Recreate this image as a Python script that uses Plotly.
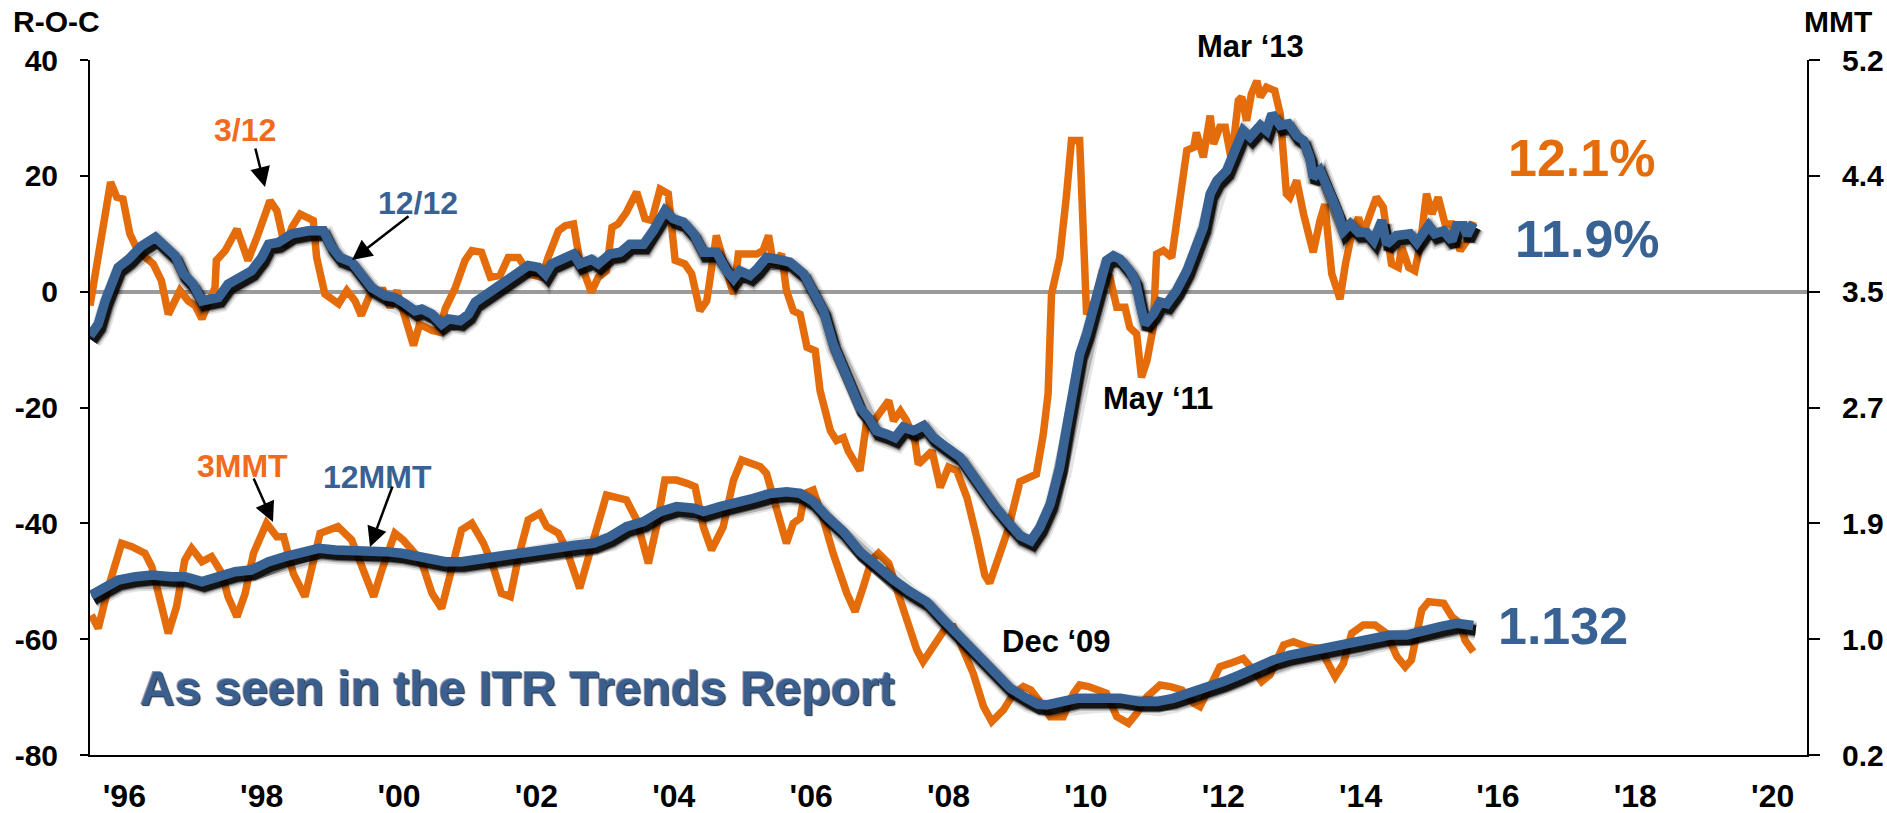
import plotly.graph_objects as go

# ---------------- data (decimal years) ----------------
# Rate-of-change 3/12 (orange, left axis)
roc312_x = [1996.0, 1996.3, 1996.39, 1996.48, 1996.58, 1996.7, 1996.92, 1997.04, 1997.14, 1997.31,
            1997.43, 1997.53, 1997.63, 1997.72, 1997.82, 1997.84, 1997.97, 1998.14, 1998.3, 1998.45,
            1998.62, 1998.72, 1998.84, 1998.94, 1999.06, 1999.25, 1999.3, 1999.42, 1999.62, 1999.74,
            1999.86, 1999.95, 2000.1, 2000.27, 2000.37, 2000.47, 2000.59, 2000.71, 2000.8, 2000.98,
            2001.1, 2001.17, 2001.32, 2001.46, 2001.56, 2001.7, 2001.83, 2001.97, 2002.09, 2002.24,
            2002.4, 2002.58, 2002.67, 2002.82, 2002.92, 2003.04, 2003.13, 2003.3, 2003.4, 2003.52,
            2003.6, 2003.69, 2003.81, 2003.96, 2004.08, 2004.18, 2004.3, 2004.42, 2004.52, 2004.66,
            2004.76, 2004.88, 2004.98, 2005.12, 2005.22, 2005.37, 2005.44, 2005.59, 2005.71, 2005.8,
            2005.88, 2005.95, 2006.07, 2006.14, 2006.24, 2006.34, 2006.44, 2006.56, 2006.63, 2006.78,
            2006.87, 2006.97, 2007.04, 2007.21, 2007.31, 2007.38, 2007.48, 2007.63, 2007.7, 2007.8,
            2007.89, 2008.01, 2008.06, 2008.21, 2008.26, 2008.38, 2008.5, 2008.62, 2008.77, 2008.91,
            2009.03, 2009.1, 2009.25, 2009.37, 2009.54, 2009.69, 2009.78, 2009.88, 2009.95, 2010.0,
            2010.12, 2010.22, 2010.29, 2010.41, 2010.51, 2010.63, 2010.73, 2010.85, 2010.95, 2011.07,
            2011.14, 2011.24, 2011.31, 2011.39, 2011.48, 2011.53, 2011.63, 2011.75, 2011.85, 2011.92,
            2011.97, 2012.07, 2012.11, 2012.21, 2012.31, 2012.36, 2012.45, 2012.53, 2012.62, 2012.72,
            2012.77, 2012.84, 2012.91, 2012.99, 2013.04, 2013.13, 2013.25, 2013.33, 2013.42, 2013.47,
            2013.57, 2013.67, 2013.81, 2013.91, 2013.98, 2014.08, 2014.2, 2014.28, 2014.37, 2014.47,
            2014.54, 2014.64, 2014.73, 2014.83, 2014.9, 2014.95, 2015.05, 2015.1, 2015.2, 2015.29,
            2015.37, 2015.46, 2015.54, 2015.63, 2015.73, 2015.83, 2015.95, 2016.05, 2016.14]
roc312_y = [-2.4, 18.9, 16.3, 16.0, 10.0, 7.0, 4.8, 1.9, -3.9, 0.2,
            -1.6, -2.4, -4.7, -2.1, 0.7, 5.4, 7.1, 10.8, 5.4, 10.0,
            15.7, 14.0, 7.7, 11.1, 13.4, 12.3, 5.9, -0.4, -2.1, 0.2,
            -1.6, -4.1, 0.2, 0.2, -2.7, 0.2, -5.0, -9.3, -5.6, -6.7,
            -7.0, -3.0, 0.7, 5.4, 7.1, 6.8, 2.5, 2.8, 5.9, 5.9,
            3.0, 2.5, 5.9, 10.5, 11.4, 11.7, 5.4, -0.1, 2.5, 3.6,
            11.1, 11.7, 13.7, 17.2, 12.6, 12.3, 17.7, 16.9, 5.4, 4.8,
            3.1, -3.3, -1.6, 9.7, 5.4, -0.4, 6.5, 6.5, 6.5, 7.1,
            9.7, 4.8, 6.5, 0.2, -3.3, -3.9, -9.6, -10.2, -17.1, -24.0,
            -25.7, -25.2, -27.5, -30.9, -22.3, -22.9, -21.1, -18.8, -22.3, -20.6,
            -22.3, -25.7, -29.8, -28.0, -27.5, -33.8, -30.3, -30.9, -35.6, -42.4,
            -49.0, -50.3, -45.5, -41.0, -32.8, -32.0, -31.5, -24.6, -17.7, -0.4,
            5.9, 16.9, 26.1, 26.1, -3.9, -1.6, 3.1, 2.5, -2.7, -2.7,
            -6.2, -7.3, -14.8, -11.9, -6.2, 6.5, 7.1, 5.9, 14.0, 19.2,
            24.4, 24.9, 27.5, 23.2, 30.4, 25.5, 28.4, 28.4, 22.6, 33.0,
            33.6, 29.5, 34.1, 36.4, 33.6, 35.3, 34.7, 30.7, 16.9, 16.3,
            19.2, 13.4, 6.8, 12.3, 15.1, 3.1, -1.3, 4.8, 10.0, 12.8,
            10.0, 13.4, 16.3, 14.6, 7.7, 4.8, 4.2, 7.7, 4.2, 3.6,
            8.2, 16.9, 13.4, 16.3, 11.7, 11.7, 7.1, 8.8, 12.1]

# Rate-of-change 12/12 (blue, left axis)
roc1212_x = [1996.0, 1996.12, 1996.22, 1996.41, 1996.56, 1996.75, 1996.95, 1997.09, 1997.24, 1997.36,
             1997.5, 1997.63, 1997.87, 1998.01, 1998.21, 1998.35, 1998.5, 1998.6, 1998.74, 1998.94,
             1999.18, 1999.4, 1999.52, 1999.64, 1999.81, 1999.98, 2000.1, 2000.3, 2000.44, 2000.59,
             2000.73, 2000.83, 2000.98, 2001.12, 2001.22, 2001.39, 2001.51, 2001.61, 2001.75, 2001.87,
             2002.04, 2002.24, 2002.38, 2002.53, 2002.63, 2002.72, 2002.86, 2003.04, 2003.13, 2003.3,
             2003.4, 2003.57, 2003.72, 2003.86, 2004.06, 2004.2, 2004.37, 2004.49, 2004.64, 2004.79,
             2004.93, 2005.12, 2005.27, 2005.37, 2005.46, 2005.61, 2005.71, 2005.85, 2006.0, 2006.19,
             2006.39, 2006.53, 2006.68, 2006.82, 2006.97, 2007.11, 2007.21, 2007.33, 2007.45, 2007.6,
             2007.72, 2007.84, 2007.99, 2008.14, 2008.28, 2008.47, 2008.67, 2008.77, 2008.96, 2009.15,
             2009.35, 2009.54, 2009.7, 2009.83, 2009.98, 2010.12, 2010.22, 2010.32, 2010.41, 2010.51,
             2010.61, 2010.71, 2010.8, 2010.9, 2011.0, 2011.14, 2011.22, 2011.29, 2011.36, 2011.48,
             2011.58, 2011.68, 2011.82, 2011.97, 2012.11, 2012.21, 2012.31, 2012.41, 2012.55, 2012.65,
             2012.79, 2012.89, 2013.04, 2013.13, 2013.21, 2013.33, 2013.45, 2013.57, 2013.67, 2013.76,
             2013.81, 2013.91, 2013.98, 2014.08, 2014.18, 2014.25, 2014.35, 2014.47, 2014.59, 2014.69,
             2014.81, 2014.88, 2015.02, 2015.22, 2015.32, 2015.49, 2015.58, 2015.71, 2015.83, 2015.9,
             2016.0, 2016.05, 2016.14]
roc1212_y = [-7.6, -5.6, -1.6, 4.2, 5.6, 7.9, 9.4, 7.9, 6.2, 3.1,
             1.3, -1.6, -1.0, 1.3, 2.5, 3.6, 5.9, 8.2, 8.5, 10.0,
             10.5, 10.5, 7.7, 5.9, 5.1, 2.5, 0.7, -0.7, -1.0, -2.1,
             -3.3, -3.0, -3.9, -5.6, -4.7, -5.0, -3.9, -1.8, -0.7, 0.2,
             1.9, 3.3, 4.5, 4.2, 3.0, 4.8, 5.6, 6.5, 4.8, 5.6,
             4.8, 6.5, 6.8, 8.2, 8.2, 10.5, 14.0, 12.6, 12.0, 10.0,
             6.8, 6.8, 3.6, 2.2, 3.6, 2.8, 3.9, 5.9, 5.6, 5.1,
             3.1, 0.2, -3.3, -9.0, -13.1, -16.5, -20.0, -21.7, -24.0, -24.6,
             -25.2, -23.4, -24.0, -23.1, -25.2, -26.9, -28.6, -30.3, -33.8, -36.7,
             -39.6, -42.1, -43.0, -40.7, -36.7, -30.3, -23.4, -17.1, -10.8, -7.3,
             -3.3, 0.7, 5.4, 6.2, 5.6, 3.6, 1.9, -2.1, -5.6, -3.9,
             -1.8, -2.1, 0.2, 3.6, 7.7, 11.1, 16.9, 19.2, 20.9, 23.8,
             27.8, 26.7, 28.7, 27.8, 30.7, 28.7, 29.0, 26.9, 26.1, 23.2,
             19.7, 20.9, 18.6, 16.3, 13.4, 10.5, 11.7, 10.2, 10.2, 8.8,
             12.3, 8.2, 9.7, 10.0, 8.5, 11.4, 10.0, 10.5, 8.8, 11.4,
             11.4, 9.7, 11.9]

# 3-month moving total (orange, right axis)
mmt3_x = [1996.02, 1996.12, 1996.27, 1996.46, 1996.61, 1996.8, 1996.9, 1997.0, 1997.14, 1997.26,
          1997.38, 1997.48, 1997.63, 1997.77, 1997.92, 1998.01, 1998.14, 1998.26, 1998.38, 1998.57,
          1998.72, 1998.82, 1998.96, 1999.13, 1999.25, 1999.35, 1999.61, 1999.81, 1999.96, 2000.13,
          2000.25, 2000.44, 2000.56, 2000.73, 2000.85, 2000.98, 2001.12, 2001.27, 2001.41, 2001.56,
          2001.73, 2001.87, 2001.99, 2002.12, 2002.24, 2002.38, 2002.55, 2002.65, 2002.82, 2002.94,
          2003.13, 2003.33, 2003.52, 2003.81, 2003.96, 2004.13, 2004.25, 2004.37, 2004.54, 2004.69,
          2004.81, 2004.93, 2005.05, 2005.22, 2005.37, 2005.49, 2005.76, 2005.85, 2006.0, 2006.14,
          2006.24, 2006.34, 2006.41, 2006.53, 2006.68, 2006.82, 2007.02, 2007.14, 2007.26, 2007.38,
          2007.48, 2007.63, 2007.75, 2007.89, 2008.04, 2008.13, 2008.31, 2008.47, 2008.57, 2008.72,
          2008.86, 2009.01, 2009.13, 2009.3, 2009.45, 2009.59, 2009.7, 2009.81, 2009.98, 2010.17,
          2010.32, 2010.41, 2010.54, 2010.8, 2010.95, 2011.12, 2011.24, 2011.39, 2011.58, 2011.73,
          2011.9, 2012.07, 2012.16, 2012.31, 2012.45, 2012.6, 2012.79, 2012.94, 2013.06, 2013.18,
          2013.38, 2013.52, 2013.72, 2013.91, 2014.06, 2014.13, 2014.25, 2014.37, 2014.54, 2014.71,
          2014.88, 2015.03, 2015.15, 2015.24, 2015.39, 2015.49, 2015.71, 2015.83, 2015.95, 2016.02,
          2016.14]
mmt3_y = [1.207, 1.111, 1.411, 1.723, 1.699, 1.651, 1.555, 1.339, 1.075, 1.267,
          1.603, 1.687, 1.591, 1.627, 1.507, 1.339, 1.195, 1.363, 1.651, 1.867,
          1.771, 1.771, 1.507, 1.339, 1.579, 1.795, 1.843, 1.747, 1.555, 1.339,
          1.531, 1.795, 1.747, 1.651, 1.555, 1.363, 1.255, 1.531, 1.819, 1.867,
          1.723, 1.555, 1.363, 1.339, 1.627, 1.891, 1.939, 1.843, 1.795, 1.675,
          1.399, 1.747, 2.070, 2.035, 1.891, 1.579, 1.843, 2.178, 2.178, 2.154,
          2.130, 1.843, 1.675, 1.843, 2.178, 2.322, 2.274, 2.226, 1.939, 1.723,
          1.867, 1.903, 2.082, 2.106, 1.891, 1.651, 1.363, 1.231, 1.411, 1.603,
          1.651, 1.579, 1.387, 1.171, 0.955, 0.871, 1.003, 1.123, 1.123, 0.955,
          0.788, 0.548, 0.440, 0.524, 0.644, 0.692, 0.668, 0.596, 0.476, 0.476,
          0.644, 0.704, 0.692, 0.644, 0.476, 0.428, 0.500, 0.620, 0.704, 0.692,
          0.668, 0.572, 0.548, 0.692, 0.835, 0.859, 0.895, 0.811, 0.728, 0.776,
          0.991, 1.015, 0.979, 0.967, 0.835, 0.764, 0.859, 1.075, 1.135, 1.135,
          1.075, 0.907, 0.835, 0.883, 1.243, 1.303, 1.291, 1.195, 1.147, 1.027,
          0.943]

# 12-month moving total (blue, right axis)
mmt12_x = [1996.02, 1996.22, 1996.41, 1996.66, 1996.9, 1997.19, 1997.38, 1997.63, 1997.87, 1998.11,
           1998.35, 1998.6, 1998.84, 1999.08, 1999.33, 1999.57, 1999.81, 2000.05, 2000.3, 2000.54,
           2000.78, 2000.98, 2001.17, 2001.41, 2001.56, 2001.75, 2002.0, 2002.24, 2002.48, 2002.63,
           2002.84, 2003.09, 2003.33, 2003.57, 2003.81, 2004.06, 2004.3, 2004.54, 2004.79, 2004.93,
           2005.17, 2005.42, 2005.66, 2005.9, 2006.14, 2006.34, 2006.53, 2006.73, 2006.97, 2007.21,
           2007.45, 2007.7, 2007.94, 2008.18, 2008.43, 2008.67, 2008.91, 2009.15, 2009.4, 2009.64,
           2009.8, 2009.93, 2010.17, 2010.37, 2010.66, 2011.0, 2011.29, 2011.53, 2011.77, 2012.02,
           2012.26, 2012.5, 2012.74, 2012.99, 2013.23, 2013.47, 2013.72, 2013.96, 2014.2, 2014.44,
           2014.69, 2014.93, 2015.17, 2015.42, 2015.66, 2015.9, 2016.14]
mmt12_y = [1.351, 1.411, 1.459, 1.483, 1.495, 1.483, 1.483, 1.447, 1.483, 1.519,
           1.531, 1.591, 1.627, 1.663, 1.687, 1.675, 1.675, 1.663, 1.663, 1.651,
           1.627, 1.603, 1.591, 1.591, 1.603, 1.615, 1.627, 1.651, 1.663, 1.675,
           1.699, 1.711, 1.723, 1.771, 1.843, 1.879, 1.951, 1.987, 1.975, 1.951,
           1.987, 2.011, 2.047, 2.082, 2.094, 2.082, 2.023, 1.915, 1.807, 1.663,
           1.555, 1.459, 1.375, 1.303, 1.171, 1.051, 0.919, 0.788, 0.680, 0.608,
           0.565, 0.560, 0.584, 0.608, 0.608, 0.608, 0.584, 0.584, 0.608, 0.644,
           0.680, 0.728, 0.776, 0.835, 0.883, 0.919, 0.943, 0.955, 0.979, 1.003,
           1.039, 1.063, 1.063, 1.099, 1.123, 1.147, 1.132]

# ticks / labels
year_ticks = list(range(1996, 2022))
label_years = list(range(1996, 2021, 2))
label_text = ["'96", "'98", "'00", "'02", "'04", "'06", "'08", "'10", "'12", "'14", "'16", "'18", "'20"]
roc_ticks = [-80, -60, -40, -20, 0, 20, 40]
roc_tick_text = ["-80", "-60", "-40", "-20", "0", "20", "40"]
mmt_ticks = [0.2 + i * 5.0 / 6.0 for i in range(7)]
mmt_tick_text = ["0.2", "1.0", "1.9", "2.7", "3.5", "4.4", "5.2"]

# ---------------- styling ----------------
W, H = 1887, 813
L, R, T, B = 90, 80, 60, 58
PW, PH = W - L - R, H - T - B
X0, X1 = 1996, 2021
ROC_R = [-80, 40]
MMT_R = [0.2, 5.2]

ORANGE = "#E46C0A"
ORANGE_LBL = "#F26A1B"
BLUE = "#386294"
FONT = "Liberation Sans, Arial, sans-serif"

def px_x(px):
    return (px - L) / PW

def px_y(py):
    return (H - B - py) / PH

# pixel -> data offsets for the drop shadow of the blue lines
sx = 2.5 * (X1 - X0) / PW
sy_roc = 5.0 * (ROC_R[1] - ROC_R[0]) / PH
sy_mmt = 5.0 * (MMT_R[1] - MMT_R[0]) / PH

fig = go.Figure()

def add_group(xs, ys_orange, xo, ys_blue, yaxis, sy):
    fig.add_trace(go.Scatter(x=xo, y=ys_orange, mode="lines", yaxis=yaxis,
                             line=dict(color=ORANGE, width=7.5), hoverinfo="skip", showlegend=False))
    for w, op in [(19, 0.10), (15, 0.22), (12, 0.45), (10, 0.8)]:
        fig.add_trace(go.Scatter(x=[v + sx for v in xs], y=[v - sy for v in ys_blue], mode="lines",
                                 yaxis=yaxis, opacity=op,
                                 line=dict(color="black", width=w), hoverinfo="skip", showlegend=False))
    fig.add_trace(go.Scatter(x=xs, y=ys_blue, mode="lines", yaxis=yaxis,
                             line=dict(color=BLUE, width=9.5), hoverinfo="skip", showlegend=False))

add_group(roc1212_x, roc312_y, roc312_x, roc1212_y, "y", sy_roc)
add_group(mmt12_x, mmt3_y, mmt3_x, mmt12_y, "y2", sy_mmt)

tickfont = dict(family=FONT, size=30, color="black", weight="bold")

fig.update_layout(
    template="none",
    width=W, height=H,
    margin=dict(l=L, r=R, t=T, b=B, autoexpand=False),
    paper_bgcolor="white", plot_bgcolor="white",
    showlegend=False,
    xaxis=dict(range=[X0, X1], tickmode="array", tickvals=[y + 0.5 for y in label_years],
               ticktext=label_text, ticks="", showgrid=False, zeroline=False, automargin=False,
               showline=True, linecolor="black", linewidth=2,
               tickfont=dict(family=FONT, size=32, color="black", weight="bold"),
               ticklabelstandoff=12),
    xaxis2=dict(range=[X0, X1], overlaying="x", anchor="y", side="bottom", tickmode="array",
                tickvals=year_ticks, ticks="outside", ticklen=10, tickwidth=2, tickcolor="black",
                showticklabels=False, showgrid=False, zeroline=False, showline=False, automargin=False),
    yaxis=dict(range=ROC_R, tickmode="array", tickvals=roc_ticks, ticktext=roc_tick_text,
               ticks="outside", ticklen=8,
               tickwidth=2, tickcolor="black", showline=True, linecolor="black", linewidth=2,
               showgrid=False, zeroline=True, zerolinecolor="#9A9A9A", zerolinewidth=4,
               tickfont=tickfont, ticklabelstandoff=16, automargin=False),
    yaxis2=dict(range=MMT_R, overlaying="y", side="right", anchor="x", tickmode="array",
                tickvals=mmt_ticks, ticktext=mmt_tick_text, ticks="outside", ticklen=11,
                tickwidth=2, tickcolor="black", showline=True, linecolor="black", linewidth=2,
                showgrid=False, zeroline=False, tickfont=tickfont, ticklabelstandoff=16,
                automargin=False),
    yaxis3=dict(range=ROC_R, overlaying="y", side="left", anchor="x", tickmode="array",
                tickvals=roc_ticks, ticks="inside", ticklen=10, tickwidth=2, tickcolor="black",
                showticklabels=False, showline=False, showgrid=False, zeroline=False, automargin=False),
    yaxis4=dict(range=MMT_R, overlaying="y", side="right", anchor="x", tickmode="array",
                tickvals=mmt_ticks, ticks="inside", ticklen=8, tickwidth=2, tickcolor="black",
                showticklabels=False, showline=False, showgrid=False, zeroline=False, automargin=False),
)

annotations = []

def text_ann(txt, cx, cy, size, color, shadow=None):
    f = dict(family=FONT, size=size, color=color, weight="bold")
    if shadow:
        f["shadow"] = shadow
    annotations.append(dict(text=txt, x=px_x(cx), y=px_y(cy), xref="paper", yref="paper",
                            xanchor="center", yanchor="middle", showarrow=False, font=f))

def arrow(tx, ty, hx, hy):
    annotations.append(dict(text="", x=px_x(hx), y=px_y(hy), xref="paper", yref="paper",
                            ax=tx - hx, ay=ty - hy, axref="pixel", ayref="pixel",
                            showarrow=True, arrowhead=2, arrowsize=1.6, arrowwidth=2.5,
                            arrowcolor="black"))

text_ann("R-O-C", 56, 22, 30, "black")
text_ann("MMT", 1838, 22, 30, "black")
text_ann("3/12", 245, 130, 32, ORANGE_LBL)
text_ann("12/12", 418, 203, 32, BLUE)
text_ann("3MMT", 242, 466, 32, ORANGE_LBL)
text_ann("12MMT", 377, 477, 32, BLUE)
text_ann("Mar \u201813", 1250, 46, 31, "black")
text_ann("May \u201811", 1158, 398, 31, "black")
text_ann("Dec \u201809", 1056, 641, 31, "black")
text_ann("12.1%", 1581, 158, 52, ORANGE)
text_ann("11.9%", 1587, 239, 52, BLUE)
text_ann("1.132", 1563, 626, 52, BLUE)
text_ann("As seen in the ITR Trends Report", 517, 688, 48, "#3A5F8E",
         shadow="1px 1px 1px #1b2d45, -1px -1px 0px #7b98bf")

arrow(255, 147, 265, 187)
arrow(410, 215, 352, 260)
arrow(253, 477, 273, 522)
arrow(393, 485, 370, 547)

fig.update_layout(annotations=annotations)

# remove the default 8px page margin so the figure sits at the window's top-left corner
fig.write_html("out.html", config={"displayModeBar": False},
               post_script="document.body.style.margin='0';document.body.style.overflow='hidden';")
